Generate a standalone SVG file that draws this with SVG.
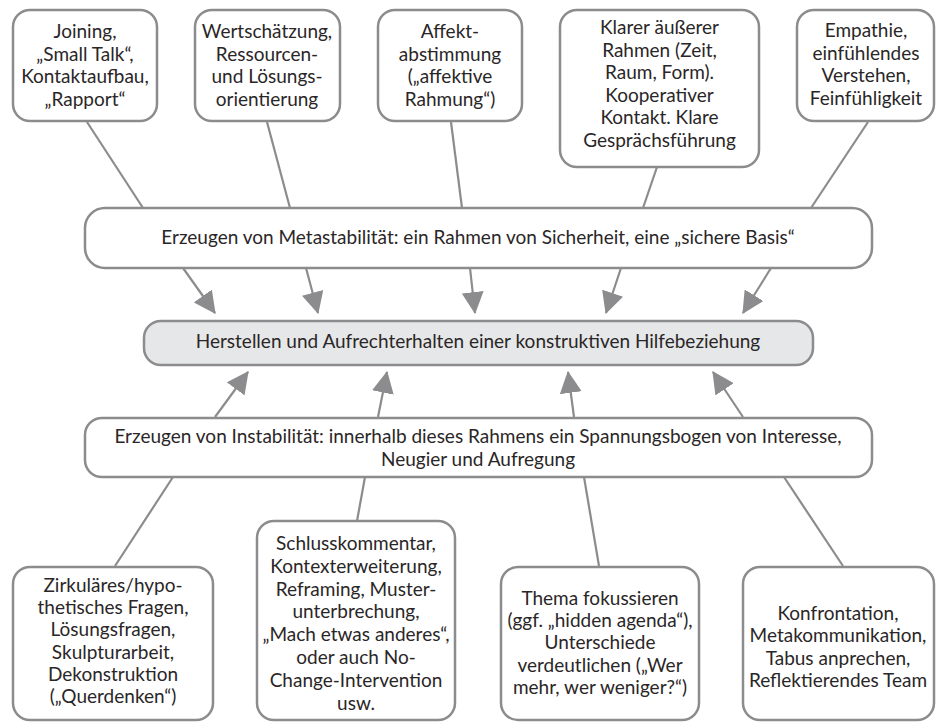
<svg xmlns="http://www.w3.org/2000/svg" width="936" height="722" viewBox="0 0 936 722">
<style>
.box{fill:#ffffff;stroke:#8c8c8e;stroke-width:2.5}
.core{fill:#e6e7e8;stroke:#8c8c8e;stroke-width:2.5}
.ln{stroke:#8c8c8e;stroke-width:2.2;fill:none}
.ar{stroke:#8c8c8e;stroke-width:2.2;fill:none;marker-end:url(#ah)}
text{font-family:Lato,"Open Sans","Noto Sans",sans-serif;font-size:19px;fill:#2a2627;text-anchor:middle}
</style>
<defs>
<marker id="ah" markerUnits="userSpaceOnUse" markerWidth="22" markerHeight="22" viewBox="0 0 20 20" refX="19" refY="10" orient="auto">
<path d="M0,0 L20,10 L0,20 Z" fill="#8c8c8e"/>
</marker>
</defs>
<g id="connectors">
<line class="ln" x1="87" y1="122" x2="143" y2="208"/>
<line class="ln" x1="267" y1="122" x2="290" y2="208"/>
<line class="ln" x1="451" y1="122" x2="462" y2="208"/>
<line class="ln" x1="657" y1="167" x2="643" y2="208"/>
<line class="ln" x1="868" y1="122" x2="811" y2="208"/>
<line class="ar" x1="183" y1="268" x2="215" y2="313"/>
<line class="ar" x1="306" y1="268" x2="318" y2="313"/>
<line class="ar" x1="470" y1="268" x2="475" y2="313"/>
<line class="ar" x1="621" y1="268" x2="606" y2="313"/>
<line class="ar" x1="771" y1="268" x2="743" y2="313"/>
<line class="ar" x1="215" y1="417" x2="248" y2="372"/>
<line class="ar" x1="378" y1="417" x2="387" y2="372"/>
<line class="ar" x1="574" y1="417" x2="568" y2="372"/>
<line class="ar" x1="743" y1="417" x2="713" y2="372"/>
<line class="ln" x1="173" y1="477" x2="115" y2="566"/>
<line class="ln" x1="365" y1="477" x2="357" y2="521"/>
<line class="ln" x1="584" y1="477" x2="599" y2="566"/>
<line class="ln" x1="784" y1="477" x2="843" y2="566"/>
</g>
<g id="t1">
<rect class="box" x="13" y="10" width="144" height="111" rx="17"/>
<text x="85" y="38">Joining,</text>
<text x="85" y="61">„Small Talk“,</text>
<text x="85" y="83">Kontaktaufbau,</text>
<text x="85" y="106">„Rapport“</text>
</g>
<g id="t2">
<rect class="box" x="195" y="10" width="145" height="111" rx="17"/>
<text x="267" y="38">Wertschätzung,</text>
<text x="267" y="61">Ressourcen-</text>
<text x="267" y="83">und Lösungs-</text>
<text x="267" y="106">orientierung</text>
</g>
<g id="t3">
<rect class="box" x="378" y="10" width="144" height="111" rx="17"/>
<text x="450" y="38">Affekt-</text>
<text x="450" y="61">abstimmung</text>
<text x="450" y="83">(„affektive</text>
<text x="450" y="106">Rahmung“)</text>
</g>
<g id="t4">
<rect class="box" x="560" y="10" width="199" height="157" rx="17"/>
<text x="659.5" y="34">Klarer äußerer</text>
<text x="659.5" y="56.5">Rahmen (Zeit,</text>
<text x="659.5" y="79">Raum, Form).</text>
<text x="659.5" y="101.5">Kooperativer</text>
<text x="659.5" y="124">Kontakt. Klare</text>
<text x="659.5" y="146.5">Gesprächsführung</text>
</g>
<g id="t5">
<rect class="box" x="797" y="10" width="137" height="111" rx="17"/>
<text x="866" y="37">Empathie,</text>
<text x="866" y="60">einfühlendes</text>
<text x="866" y="82">Verstehen,</text>
<text x="866" y="105">Feinfühligkeit</text>
</g>
<g id="meta">
<rect class="box" x="85" y="208" width="787" height="60" rx="20"/>
<text x="478" y="244">Erzeugen von Metastabilität: ein Rahmen von Sicherheit, eine „sichere Basis“</text>
</g>
<g id="core">
<rect class="core" x="144" y="321" width="669" height="44" rx="17"/>
<text x="478" y="348">Herstellen und Aufrechterhalten einer konstruktiven Hilfebeziehung</text>
</g>
<g id="insta">
<rect class="box" x="85" y="418" width="787" height="59" rx="17"/>
<text x="478" y="443">Erzeugen von Instabilität: innerhalb dieses Rahmens ein Spannungsbogen von Interesse,</text>
<text x="478" y="466">Neugier und Aufregung</text>
</g>
<g id="b1">
<rect class="box" x="13" y="567" width="200" height="153" rx="17"/>
<text x="113" y="592">Zirkuläres/hypo-</text>
<text x="113" y="614">thetisches Fragen,</text>
<text x="113" y="636">Lösungsfragen,</text>
<text x="113" y="659">Skulpturarbeit,</text>
<text x="113" y="681">Dekonstruktion</text>
<text x="113" y="703">(„Querdenken“)</text>
</g>
<g id="b2">
<rect class="box" x="257" y="521" width="198" height="199" rx="17"/>
<text x="356" y="550">Schlusskommentar,</text>
<text x="356" y="573">Kontexterweiterung,</text>
<text x="356" y="596">Reframing, Muster-</text>
<text x="356" y="618">unterbrechung,</text>
<text x="356" y="641">„Mach etwas anderes“,</text>
<text x="356" y="664">oder auch No-</text>
<text x="356" y="687">Change-Intervention</text>
<text x="356" y="710">usw.</text>
</g>
<g id="b3">
<rect class="box" x="501" y="567" width="198" height="153" rx="17"/>
<text x="600" y="605">Thema fokussieren</text>
<text x="600" y="627">(ggf. „hidden agenda“),</text>
<text x="600" y="649">Unterschiede</text>
<text x="600" y="672">verdeutlichen („Wer</text>
<text x="600" y="694">mehr, wer weniger?“)</text>
</g>
<g id="b4">
<rect class="box" x="743" y="567" width="191" height="153" rx="17"/>
<text x="838" y="620">Konfrontation,</text>
<text x="838" y="642">Metakommunikation,</text>
<text x="838" y="665">Tabus anprechen,</text>
<text x="838" y="687">Reflektierendes Team</text>
</g>
</svg>
